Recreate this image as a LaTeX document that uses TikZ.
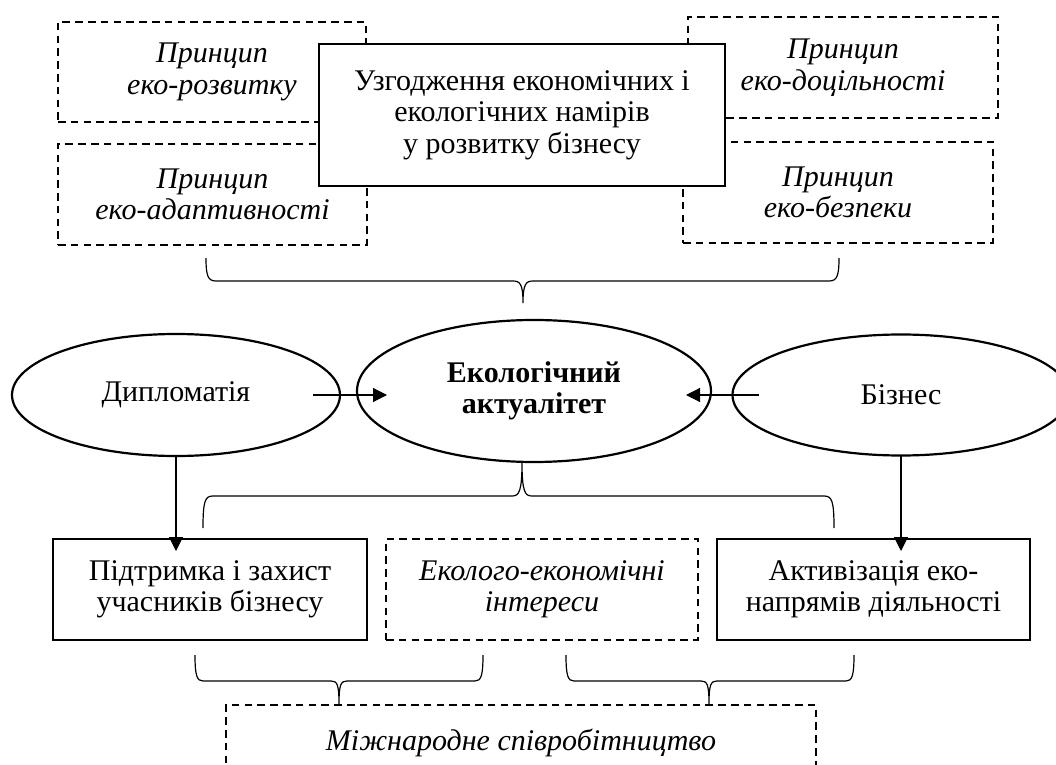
\documentclass[tikz,border=0pt]{standalone}
\usepackage{fontspec}
\setmainfont{Liberation Serif}
\usetikzlibrary{shapes.geometric,arrows.meta,calc}
\begin{document}
\begin{tikzpicture}[x=0.5pt,y=-0.5pt,
  every node/.style={inner sep=0pt,outer sep=0pt,align=center,font=\fontsize{15}{15.7}\selectfont},
  dbox/.style={draw,line width=1.2pt,dash pattern=on 3.8pt off 2.6pt,font=\fontsize{15}{15.7}\selectfont\itshape},
  sbox/.style={draw,line width=1.3pt,fill=white},
  ell/.style={draw,ellipse,line width=1.1pt},
  arr/.style={line width=0.6pt,-{Triangle[length=7pt,width=7pt]}},
  brace/.style={line width=0.6pt}]
\useasboundingbox (0,0) rectangle (1056,765);
\clip (0,0) rectangle (1056,765);
% top principle boxes
\node[dbox,minimum width=154pt,minimum height=50pt] (p1) at (212,72) {Принцип\\еко-розвитку};
\node[dbox,minimum width=154.5pt,minimum height=50.5pt] (p2) at (212.5,194.5) {Принцип\\еко-адаптивності};
\node[dbox,minimum width=155pt,minimum height=50.5pt] (p3) at (843,67.5) {Принцип\\еко-доцільності};
\node[dbox,minimum width=155pt,minimum height=50.5pt] (p4) at (838,192.5) {Принцип\\еко-безпеки};
\node[sbox,minimum width=203pt,minimum height=71pt] (uzg) at (522,115) {Узгодження економічних і\\екологічних намірів\\у розвитку бізнесу};
% top brace
\draw[brace] (206,258) .. controls (206,276) and (208,281) .. (216,281) -- (513,281)
  .. controls (520,281) and (523,284) .. (523,303)
  .. controls (523,284) and (526,281) .. (533,281) -- (829,281)
  .. controls (837,281) and (839,276) .. (839,258);
% ellipses
\node[ell,minimum width=164pt,minimum height=61pt] (dip) at (176,395) {Дипломатія};
\node[ell,minimum width=177pt,minimum height=71pt,font=\fontsize{15}{15.7}\selectfont\bfseries] (eco) at (534,391) {Екологічний\\актуалітет};
\node[ell,minimum width=168.5pt,minimum height=60.5pt] (biz) at (901,395) {Бізнес};
% arrows into centre
\coordinate (ew) at ([xshift=15pt]eco.west);
\coordinate (ee) at ([xshift=-12.5pt]eco.east);
\draw[arr] ([xshift=-13.5pt]dip.east) -- (ew |- dip.east);
\draw[arr] ([xshift=13pt]biz.west) -- (ee |- biz.west);
% lower brace
\draw[brace] (203,528) .. controls (203,501) and (205,496) .. (213,496) -- (512,496)
  .. controls (519,496) and (522,492) .. (522,462)
  .. controls (522,492) and (525,496) .. (532,496) -- (824,496)
  .. controls (832,496) and (834,501) .. (834,528);
% bottom boxes
\node[sbox,minimum width=157pt,minimum height=50.5pt] (sup) at (210,589.5) {Підтримка і захист\\учасників бізнесу};
\node[dbox,minimum width=156pt,minimum height=50.5pt] (int) at (542,589.5) {Еколого-економічні\\інтереси};
\node[sbox,minimum width=156.5pt,minimum height=50.5pt] (act) at (873.5,589.5) {Активізація еко-\\напрямів діяльності};
% down arrows
\draw[arr] (dip.south) -- ($(dip.south |- sup.north)+(0,12)$);
\draw[arr] (biz.south) -- ($(biz.south |- act.north)+(0,12)$);
% bottom braces
\draw[brace] (195,655) .. controls (195,676) and (197,681) .. (203,681) -- (331,681)
  .. controls (337,681) and (339,684) .. (339,704)
  .. controls (339,684) and (341,681) .. (347,681) -- (475,681)
  .. controls (481,681) and (483,676) .. (483,655);
\draw[brace] (566,655) .. controls (566,676) and (568,681) .. (574,681) -- (701,681)
  .. controls (707,681) and (709,684) .. (709,704)
  .. controls (709,684) and (711,681) .. (717,681) -- (846,681)
  .. controls (852,681) and (854,676) .. (854,655);
% international cooperation
\node[dbox,minimum width=295pt,minimum height=37.5pt] (mizh) at (521,742.5) {Міжнародне співробітництво};
\end{tikzpicture}
\end{document}
